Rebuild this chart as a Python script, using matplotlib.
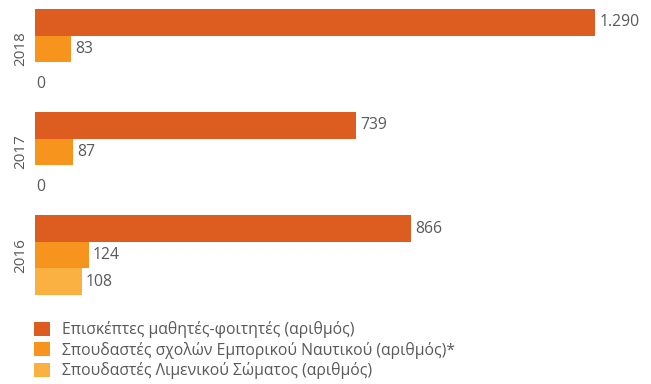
import numpy as np
import matplotlib.pyplot as plt

plt.rcParams['font.family'] = ['Open Sans', 'DejaVu Sans']

years = ['2018', '2017', '2016']
visitors = [1290, 739, 866]
merchant_students = [83, 87, 124]
port_students = [0, 0, 108]
series_names = [
    'Επισκέπτες μαθητές-φοιτητές (αριθμός)',
    'Σπουδαστές σχολών Εμπορικού Ναυτικού (αριθμός)*',
    'Σπουδαστές Λιμενικού Σώματος (αριθμός)',
]
colors = ['#DD5C20', '#F7941E', '#FBB042']
text_color = '#58595B'

fig = plt.figure(figsize=(6.51, 3.84), dpi=100)
W, H = 651, 384
ax = fig.add_axes([35 / W, 1 - 295 / H, (595 - 35) / W, (295 - 9) / H])

group_step = 3.88
tops = np.arange(len(years)) * group_step
series = [visitors, merchant_students, port_students]

handles = []
for i, (vals, col, name) in enumerate(zip(series, colors, series_names)):
    y = tops + i + 0.5
    bars = ax.barh(y, vals, height=1.0, color=col, label=name)
    handles.append(bars)
    labels = [f'{v:,}'.replace(',', '.') for v in vals]
    anns = ax.bar_label(bars, labels=labels, padding=3, fontsize=11.3,
                        color=text_color, clip_on=False)
    # empty categories: the "0" sits a little lower than a bar label
    for v, a in zip(vals, anns):
        if v == 0:
            a.xyann = (a.xyann[0] - 2, a.xyann[1] - 6)

for t, yr in zip(tops, years):
    ax.text(-0.026, t + 1.5, yr, transform=ax.get_yaxis_transform(),
            rotation=90, ha='center', va='center', fontsize=11,
            color=text_color)

ax.set_xlim(0, 1290)
ax.set_ylim(tops[-1] + 3, 0)
ax.axis('off')

leg = fig.legend(handles=handles, loc='upper left',
                 bbox_to_anchor=(28 / W, 1 - 315 / H), frameon=False,
                 fontsize=11.3, handlelength=1.0, handleheight=1.0,
                 handletextpad=0.75, labelspacing=0.22, borderaxespad=0)
for txt in leg.get_texts():
    txt.set_color(text_color)

fig.savefig('out.png', dpi=100)
